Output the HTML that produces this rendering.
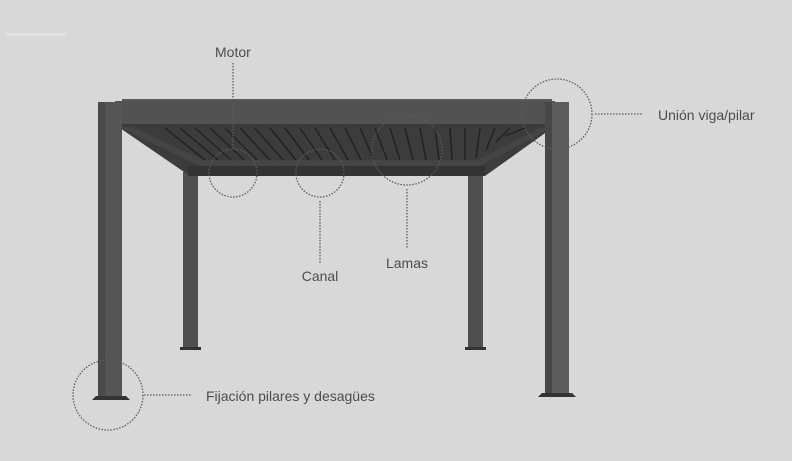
<!DOCTYPE html>
<html><head><meta charset="utf-8"><style>
html,body{margin:0;padding:0;background:#d8d8d8;}
svg{display:block}
text{font-family:"Liberation Sans",sans-serif;font-size:14px;fill:#4a4c52;}
</style></head><body>
<svg width="792" height="461" viewBox="0 0 792 461" xmlns="http://www.w3.org/2000/svg">
<rect width="792" height="461" fill="#d8d8d8"/>
<rect x="6" y="33" width="60" height="3" fill="#e2e2e2"/>
<!-- rear posts -->
<rect x="183" y="172" width="15" height="176" fill="#4f4f4f"/>
<rect x="180" y="347" width="21" height="3" fill="#333"/>
<rect x="468" y="172" width="15" height="176" fill="#4f4f4f"/>
<rect x="465" y="347" width="21" height="3" fill="#333"/>
<!-- ceiling -->
<polygon points="117,126 555,126 485,176 190,176" fill="#3c3c3c"/>
<polygon points="117,126 200,166 480,166 555,126 545,126 478,160 203,160 130,126" fill="#454545"/>
<g stroke="#222" stroke-width="1.5">
<line x1="165" y1="128" x2="205" y2="160"/><line x1="180" y1="128" x2="218" y2="160"/>
<line x1="195" y1="128" x2="231" y2="160"/><line x1="210" y1="128" x2="244" y2="160"/>
<line x1="225" y1="128" x2="257" y2="160"/><line x1="240" y1="128" x2="270" y2="160"/>
<line x1="255" y1="128" x2="283" y2="160"/><line x1="270" y1="128" x2="296" y2="160"/>
<line x1="285" y1="128" x2="309" y2="160"/><line x1="300" y1="128" x2="322" y2="160"/>
<line x1="315" y1="128" x2="335" y2="160"/><line x1="330" y1="128" x2="348" y2="160"/>
<line x1="345" y1="128" x2="361" y2="160"/><line x1="360" y1="128" x2="374" y2="160"/>
<line x1="375" y1="128" x2="387" y2="160"/><line x1="390" y1="128" x2="400" y2="160"/>
<line x1="405" y1="128" x2="413" y2="160"/><line x1="420" y1="128" x2="426" y2="160"/>
<line x1="435" y1="128" x2="439" y2="160"/><line x1="450" y1="128" x2="452" y2="160"/>
<line x1="465" y1="128" x2="465" y2="160"/><line x1="480" y1="128" x2="476" y2="158"/>
<line x1="495" y1="128" x2="486" y2="150"/><line x1="510" y1="128" x2="496" y2="142"/>
<line x1="525" y1="128" x2="505" y2="136"/>
</g>
<rect x="188" y="166" width="297" height="10" fill="#333"/>
<!-- front beam -->
<rect x="122" y="99" width="430" height="3" fill="#5a5a5a"/>
<rect x="115" y="101" width="440" height="25" fill="#525252"/>
<rect x="115" y="124" width="440" height="3" fill="#3a3a3a"/>
<!-- front posts -->
<rect x="98" y="102" width="24" height="294" fill="#555"/>
<rect x="98" y="102" width="7" height="294" fill="#4a4a4a"/>
<polygon points="96,396 126,396 130,400 92,400" fill="#333"/>
<rect x="545" y="102" width="24" height="294" fill="#5c5c5c"/>
<rect x="545" y="102" width="7" height="294" fill="#474747"/>
<polygon points="542,393 572,393 576,397 538,397" fill="#333"/>
<!-- callouts -->
<g fill="none" stroke="#5a5c66" stroke-width="1.3" stroke-dasharray="1.5 1.5">
<circle cx="233" cy="173" r="24"/>
<circle cx="320" cy="173" r="24"/>
<circle cx="407" cy="150" r="35"/>
<circle cx="557" cy="114" r="35"/>
<circle cx="108" cy="395" r="35"/>
<line x1="233" y1="63" x2="233" y2="149"/>
<line x1="320" y1="201" x2="320" y2="263"/>
<line x1="407" y1="189" x2="407" y2="249"/>
<line x1="595" y1="114" x2="643" y2="114"/>
<line x1="144" y1="395" x2="191" y2="395"/>
</g>
<text x="215" y="57">Motor</text>
<text x="320" y="281" text-anchor="middle">Canal</text>
<text x="407" y="268" text-anchor="middle">Lamas</text>
<text x="658" y="120">Unión viga/pilar</text>
<text x="206" y="401">Fijación pilares y desagües</text>
</svg>
</body></html>
